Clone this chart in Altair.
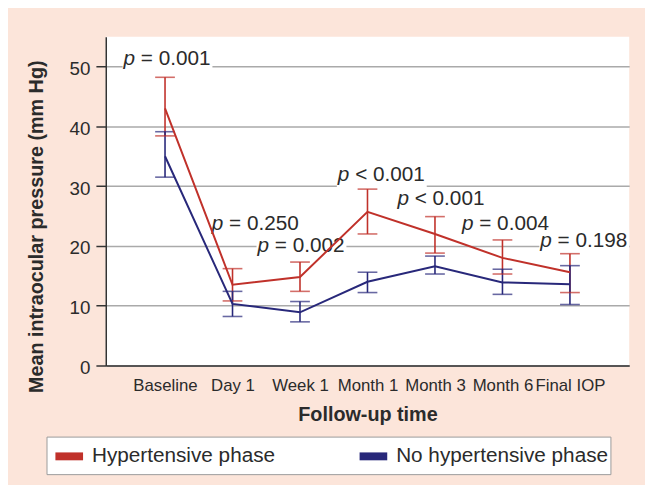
import altair as alt
import pandas as pd

# ---------------- data ----------------
categories = ["Baseline", "Day 1", "Week 1", "Month 1", "Month 3", "Month 6", "Final IOP"]
groups = ["Hypertensive phase", "No hypertensive phase"]

hyp_mean = [43.0, 13.5, 14.8, 25.7, 22.0, 18.0, 15.6]
hyp_low = [38.4, 10.8, 12.4, 22.0, 18.8, 15.3, 12.2]
hyp_high = [48.2, 16.2, 17.3, 29.5, 24.9, 21.0, 18.7]

no_mean = [35.0, 10.3, 8.9, 14.0, 16.6, 13.9, 13.6]
no_low = [31.5, 8.2, 7.3, 12.2, 15.3, 11.9, 10.2]
no_high = [39.1, 12.4, 10.7, 15.6, 18.3, 16.1, 16.7]

p_text = ["= 0.001", "= 0.250", "= 0.002", "< 0.001", "< 0.001", "= 0.004", "= 0.198"]
p_y = [50.2, 22.7, 18.9, 30.8, 26.8, 22.7, 19.9]

# ---------------- styling ----------------
RED = "#C0312A"
BLUE = "#28287A"
INK = "#2b2b2b"
PEACH = "#FCE5DA"
FONT = "Liberation Sans"
p_dx = [-42, -21, -43, -30, -38, -41, -30]  # label offsets (px) from category

rows = []
for g, m, lo, hi in [(groups[0], hyp_mean, hyp_low, hyp_high),
                     (groups[1], no_mean, no_low, no_high)]:
    for k, (c, a, b, d) in enumerate(zip(categories, m, lo, hi)):
        rows.append({"time": c, "group": g, "mean": a, "low": b, "high": d, "idx": k})
df = pd.DataFrame(rows)

ann = pd.DataFrame({"time": categories, "txt": p_text, "y": p_y, "i": list(range(len(categories)))})

yscale = alt.Scale(domain=[0, 55], nice=False, zero=True)
xscale = alt.Scale(type="point", padding=0.878)

x_axis = alt.Axis(
    labelFontSize=17, labelColor=INK, labelFont=FONT, labelPadding=12,
    ticks=False, tickSize=0, domainColor="#333333", domainWidth=1.5,
    labelAngle=0, grid=False,
    titleFontSize=20, titleFont=FONT, titleFontWeight="bold", titleColor=INK,
    titleY=56, titleBaseline="alphabetic",
)
y_axis = alt.Axis(
    values=[0, 10, 20, 30, 40, 50], labelFontSize=19, labelColor=INK, labelFont=FONT,
    labelPadding=6, labelOffset=2, tickSize=10, tickColor="#333333", tickWidth=1.5,
    domainColor="#333333", domainWidth=1.5,
    grid=True, gridColor="#AAAAAA", gridWidth=1.5,
    titleFontSize=20, titleFont=FONT, titleFontWeight="bold", titleColor=INK,
    titleX=-64, titleY=192, titleAngle=270, titleAlign="center", titleBaseline="alphabetic",
)

Y_TITLE = "Mean intraocular pressure (mm Hg)"


def X():
    return alt.X("time:N", sort=categories, scale=xscale, axis=x_axis, title="Follow-up time")


def Y(field):
    return alt.Y(field, scale=yscale, axis=y_axis, title=Y_TITLE)


color_scale = alt.Scale(domain=groups, range=[RED, BLUE])

legend = alt.Legend(
    orient="none", legendX=-60, legendY=405, direction="horizontal", title=None,
    fillColor="white", strokeColor="#9a9a9a", padding=2, symbolOffset=3,
    symbolType="stroke", symbolStrokeWidth=8, symbolSize=784, symbolOpacity=1,
    labelFontSize=21, labelFont=FONT, labelColor=INK, labelOffset=5,
    columnPadding=69, labelLimit=400,
)


def C():
    return alt.Color("group:N", scale=color_scale, legend=legend)


base = alt.Chart(df)

# annotations: white box behind, then italic "p" and the rest
ann_layers = []
for i in range(len(categories)):
    sub = alt.Chart(ann).transform_filter(alt.datum.i == i)
    ann_layers.append(sub.mark_rect(color="white", xOffset=p_dx[i] - 1, x2Offset=p_dx[i] + 90,
                                    yOffset=-17, y2Offset=6
                                    ).encode(x=X(), x2="time:N", y=Y("y:Q"), y2="y:Q"))
for i in range(len(categories)):
    sub = alt.Chart(ann).transform_filter(alt.datum.i == i)
    ann_layers.append(sub.mark_text(align="left", baseline="alphabetic", dx=p_dx[i],
                                    fontSize=21, font=FONT, fontStyle="italic", color=INK
                                    ).encode(x=X(), y=Y("y:Q"), text=alt.value("p")))
    ann_layers.append(sub.mark_text(align="left", baseline="alphabetic", dx=p_dx[i] + 17.5,
                                    fontSize=21, font=FONT, color=INK
                                    ).encode(x=X(), y=Y("y:Q"), text="txt:N"))

rules = base.mark_rule(strokeWidth=1.6).encode(x=X(), y=Y("low:Q"), y2="high:Q", color=C())
cap_lo = base.mark_tick(size=20, thickness=1.6).encode(x=X(), y=Y("low:Q"), color=C())
cap_hi = base.mark_tick(size=20, thickness=1.6).encode(x=X(), y=Y("high:Q"), color=C())
lines = base.mark_line(strokeWidth=2).encode(
    x=X(), y=Y("mean:Q"), color=C(), order=alt.Order("idx:Q"),
)

chart = alt.layer(*ann_layers, rules, cap_lo, cap_hi, lines).properties(
    width=530, height=333,
    autosize=alt.AutoSizeParams(type="none"),
    padding={"left": 99, "top": 26, "right": 16, "bottom": 118},
    background=PEACH,
).configure_view(fill="white", stroke=None)

chart.save("out.html", embed_options={"renderer": "svg", "actions": False})
